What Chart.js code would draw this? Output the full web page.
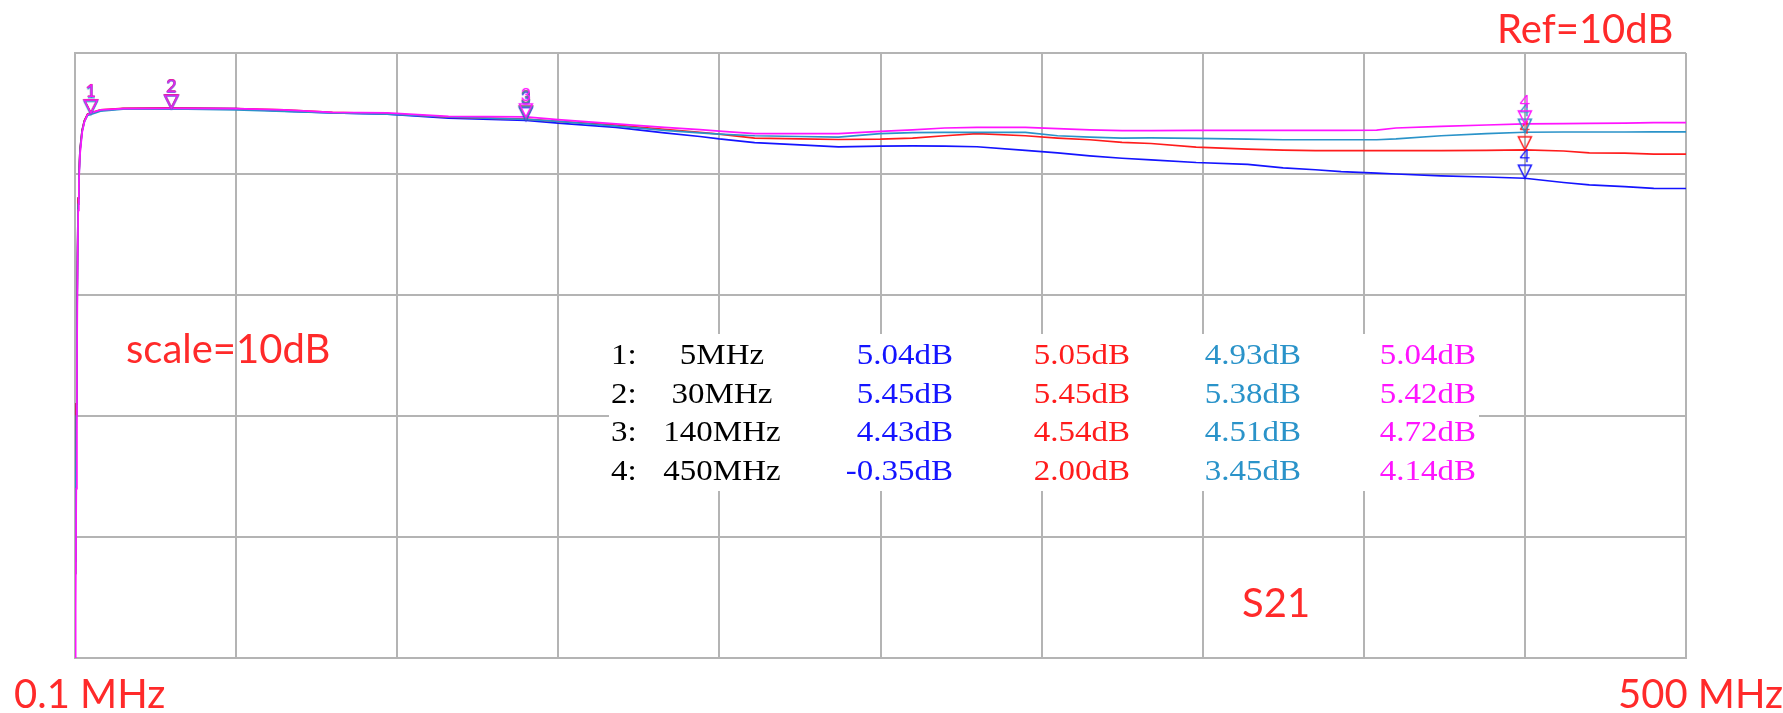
<!DOCTYPE html>
<html>
<head>
<meta charset="utf-8">
<title>S21</title>
<script src="https://cdn.jsdelivr.net/npm/chart.js@4.4.1/dist/chart.umd.min.js"></script>
<style>
  html, body { margin: 0; padding: 0; background: #fff; }
  canvas { display: block; }
</style>
</head>
<body>
<canvas id="s21" width="1783" height="713"></canvas>
<script>
// Frequency points (MHz), shared by the four traces
const freqMHz = [0.1, 0.3, 0.5, 0.7, 0.9, 1.1, 1.3, 1.65, 2.3, 3, 4, 5, 8, 15, 30, 50, 65, 80, 97, 116,
  140, 150, 168, 183, 194, 200, 211, 225, 237, 250,
  260, 270, 280, 295, 305, 315, 325, 334, 348, 364,
  375, 385, 393, 404, 410, 424, 438, 450, 462, 470,
  481, 490, 500];

// S21 traces (dB)
const blueDb = [-32, -27, -19, -12, -6, -2, -0.3, 2.0, 3.6, 4.4, 4.95, 5.04, 5.25, 5.4, 5.45, 5.4, 5.2, 5.05, 4.95, 4.62,
  4.43, 4.2, 3.85, 3.4, 3.1, 2.9, 2.6, 2.4, 2.25, 2.3,
  2.32, 2.3, 2.25, 1.95, 1.75, 1.5, 1.3, 1.17, 0.95, 0.8,
  0.5, 0.35, 0.2, 0.07, 0.0, -0.15, -0.25, -0.35, -0.7, -0.9,
  -1.04, -1.18, -1.2];
const redDb = [-33, -27, -19, -12, -6, -2, -0.2, 2.0, 3.6, 4.4, 4.95, 5.05, 5.3, 5.42, 5.45, 5.4, 5.3, 5.1, 5.0, 4.7,
  4.54, 4.35, 4.05, 3.7, 3.45, 3.3, 2.97, 2.9, 2.85, 2.88,
  2.97, 3.16, 3.33, 3.16, 2.97, 2.83, 2.61, 2.52, 2.22, 2.06,
  1.98, 1.93, 1.93, 1.93, 1.93, 1.93, 1.95, 2.0, 1.9, 1.75,
  1.72, 1.65, 1.65];
const tealDb = [-33, -28, -20, -13, -7, -2.5, -0.5, 1.8, 3.5, 4.3, 4.85, 4.93, 5.2, 5.35, 5.38, 5.3, 5.17, 5.05, 4.95, 4.71,
  4.51, 4.35, 3.95, 3.6, 3.4, 3.3, 3.16, 3.1, 3.05, 3.33,
  3.42, 3.44, 3.44, 3.44, 3.16, 3.05, 2.97, 2.99, 2.95, 2.88,
  2.83, 2.83, 2.83, 2.83, 2.9, 3.16, 3.33, 3.45, 3.47, 3.47,
  3.47, 3.48, 3.48];
const magentaDb = [-48, -36, -26, -16, -8, -3, -0.8, 1.6, 3.4, 4.3, 4.9, 5.04, 5.3, 5.4, 5.42, 5.4, 5.3, 5.1, 5.05, 4.76,
  4.72, 4.5, 4.15, 3.85, 3.66, 3.55, 3.33, 3.33, 3.33, 3.52,
  3.65, 3.8, 3.85, 3.85, 3.75, 3.65, 3.58, 3.58, 3.6, 3.6,
  3.6, 3.6, 3.6, 3.62, 3.8, 3.93, 4.05, 4.14, 4.17, 4.18,
  4.2, 4.25, 4.25];

// Markers
const markerNums = ['1', '2', '3', '4'];
const markerMHz = [5, 30, 140, 450];
const markerLabels = ['5MHz', '30MHz', '140MHz', '450MHz'];
const blueMarkDb = [5.04, 5.45, 4.43, -0.35];
const redMarkDb = [5.05, 5.45, 4.54, 2.00];
const tealMarkDb = [4.93, 5.38, 4.51, 3.45];
const magentaMarkDb = [5.04, 5.42, 4.72, 4.14];

// Axis setup
const freqStart = 0.1, freqStop = 500, xDivs = 10;
const refDb = 10, dbPerDiv = 10, yDivs = 5;

const startText = '0.1 MHz';
const stopText = '500 MHz';
const refText = 'Ref=10dB';
const scaleText = 'scale=10dB';
const paramText = 'S21';

const BLUE = '#1414ff', RED = '#ff1c1c', TEAL = '#2a93c9', MAGENTA = '#ff14ff';
const NOTE_RED = '#ff2a2a';
const GRID = '#b4b4b4';

function makeMarker(color, num) {
  const c = document.createElement('canvas');
  c.width = 20; c.height = 66;
  const g = c.getContext('2d');
  const tip = 33;
  g.strokeStyle = color;
  g.lineWidth = 1.5;
  g.beginPath();
  g.moveTo(10, tip);
  g.lineTo(3.5, tip - 13);
  g.lineTo(16.5, tip - 13);
  g.closePath();
  g.stroke();
  g.fillStyle = color;
  g.font = '18px Lato';
  g.textAlign = 'center';
  g.fillText(num, 10, tip - 16);
  return c;
}

function toPoints(xs, ys) {
  return xs.map((x, i) => ({ x: x, y: ys[i] }));
}

const traces = [
  { label: 'magenta', color: MAGENTA, data: magentaDb, marks: magentaMarkDb },
  { label: 'teal', color: TEAL, data: tealDb, marks: tealMarkDb },
  { label: 'red', color: RED, data: redDb, marks: redMarkDb },
  { label: 'blue', color: BLUE, data: blueDb, marks: blueMarkDb }
];

const datasets = [];
traces.forEach((t, i) => {
  datasets.push({
    label: t.label + ' markers',
    data: toPoints(markerMHz, t.marks),
    showLine: false,
    pointRadius: 5,
    pointStyle: markerNums.map(n => makeMarker(t.color, n)),
    order: i
  });
  datasets.push({
    label: t.label,
    data: toPoints(freqMHz, t.data),
    showLine: true,
    borderColor: t.color,
    borderWidth: 1.7,
    pointRadius: 0,
    tension: 0,
    fill: false,
    order: 4 + i
  });
});

function stretched(ctx, text, x, y, align, sx) {
  ctx.save();
  ctx.translate(x, y);
  ctx.scale(sx, 1);
  ctx.textAlign = align;
  ctx.fillText(text, 0, 0);
  ctx.restore();
}

const overlay = {
  id: 'overlay',
  afterDraw(chart) {
    const ctx = chart.ctx;
    ctx.save();
    ctx.textBaseline = 'alphabetic';
    ctx.fillStyle = NOTE_RED;
    ctx.font = '40px Lato';
    ctx.textAlign = 'left';
    ctx.fillText(refText, 1497, 43);
    ctx.fillText(scaleText, 126, 363);
    ctx.fillText(paramText, 1242, 617);
    ctx.fillText(startText, 14, 708);
    ctx.fillText(stopText, 1618, 708);

    // marker readout table
    ctx.fillStyle = '#fff';
    ctx.fillRect(609, 334, 870, 157);
    ctx.font = '30px "Liberation Serif"';
    const rows = [364, 402.5, 441, 480];
    const cols = [
      { vals: blueMarkDb, color: BLUE, x: 953 },
      { vals: redMarkDb, color: RED, x: 1130 },
      { vals: tealMarkDb, color: TEAL, x: 1301 },
      { vals: magentaMarkDb, color: MAGENTA, x: 1476 }
    ];
    rows.forEach((y, r) => {
      ctx.fillStyle = '#000';
      stretched(ctx, markerNums[r] + ':', 611, y, 'left', 1.1);
      stretched(ctx, markerLabels[r], 722, y, 'center', 1.1);
      cols.forEach(c => {
        ctx.fillStyle = c.color;
        stretched(ctx, c.vals[r].toFixed(2) + 'dB', c.x, y, 'right', 1.1);
      });
    });
    ctx.restore();
  }
};

const xGrid = [];
for (let i = 0; i <= xDivs; i++) xGrid.push(freqStart + (freqStop - freqStart) * i / xDivs);

new Chart(document.getElementById('s21').getContext('2d'), {
  type: 'scatter',
  data: { datasets: datasets },
  options: {
    responsive: false,
    animation: false,
    layout: { padding: { left: 75, top: 53, right: 97, bottom: 55 } },
    plugins: { legend: { display: false }, tooltip: { enabled: false } },
    scales: {
      x: {
        type: 'linear',
        min: freqStart,
        max: freqStop,
        afterBuildTicks: (s) => { s.ticks = xGrid.map(v => ({ value: v })); },
        afterFit: (s) => { s.height = 0; },
        ticks: { display: false },
        grid: { color: GRID, lineWidth: 2, drawTicks: false },
        border: { display: true, color: GRID, width: 2 }
      },
      y: {
        type: 'linear',
        min: refDb - dbPerDiv * yDivs,
        max: refDb,
        ticks: { display: false, stepSize: dbPerDiv },
        afterFit: (s) => { s.width = 0; },
        grid: { color: GRID, lineWidth: 2, drawTicks: false },
        border: { display: true, color: GRID, width: 2 }
      }
    }
  },
  plugins: [overlay]
});
</script>
</body>
</html>
